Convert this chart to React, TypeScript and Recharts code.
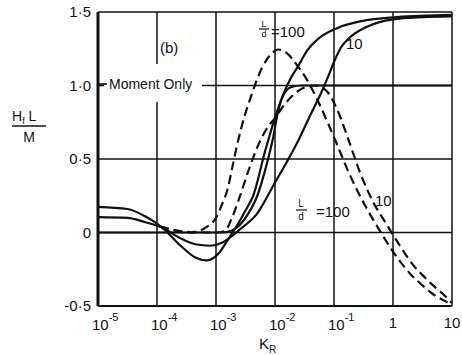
import React from 'react';
import { LineChart, Line, XAxis, YAxis, CartesianGrid, Customized } from 'recharts';

// x tick positions (K_R) and labels
const xTicks = [1e-5, 1e-4, 1e-3, 1e-2, 1e-1, 1, 10];
const xTickBase = ['10', '10', '10', '10', '10', '1', '10'];
const xTickExp = ['-5', '-4', '-3', '-2', '-1', '', ''];
// y ticks and labels
const yTicks = [-0.5, 0, 0.5, 1, 1.5];
const yTickLabels = ['-0·5', '0', '0·5', '1·0', '1·5'];

// Solid, L/d = 100 (log10 K_R, value)
const s100Log = [-5, -4.5, -4.2, -3.9, -3.6, -3.35, -3.15, -2.95, -2.8, -2.64, -2.5, -2.37, -2.17, -2.0, -1.85, -1.72, -1.61, -1.45, -1.29, -0.95, -0.51, 0.07, 1];
const s100Val = [0.175, 0.16, 0.11, 0.03, -0.09, -0.17, -0.19, -0.14, -0.05, 0.05, 0.15, 0.25, 0.55, 0.78, 0.95, 1.06, 1.13, 1.24, 1.31, 1.39, 1.44, 1.465, 1.48];

// Solid, L/d = 10
const s10Log = [-5, -4.5, -4.2, -3.9, -3.6, -3.35, -3.1, -2.9, -2.75, -2.6, -2.3, -2.0, -1.8, -1.6, -1.4, -1.24, -1.1, -1.0, -0.88, -0.75, -0.44, 0, 0.5, 1];
const s10Val = [0.105, 0.1, 0.07, 0.03, -0.04, -0.08, -0.09, -0.07, -0.03, 0.02, 0.13, 0.34, 0.48, 0.63, 0.8, 0.93, 1.06, 1.16, 1.26, 1.32, 1.4, 1.45, 1.465, 1.47];

// Solid, moment only
const smLog = [-5, -2.9, -2.75, -2.6, -2.45, -2.3, -2.15, -2.03, -1.95, -1.85, -1.72, -1.55, 1];
const smVal = [0, 0, 0.01, 0.05, 0.13, 0.25, 0.45, 0.65, 0.82, 0.94, 0.99, 1.0, 1.0];

// Dashed, L/d = 100
const d100Log = [-3.95, -3.75, -3.5, -3.3, -3.15, -3.0, -2.9, -2.8, -2.72, -2.64, -2.51, -2.42, -2.22, -2.05, -1.95, -1.8, -1.63, -1.46, -1.29, -1.12, -0.95, -0.73, -0.44, -0.22, 0, 0.29, 0.5, 0.68, 0.85, 1];
const d100Val = [0.04, 0.02, 0.0, 0.01, 0.04, 0.1, 0.19, 0.3, 0.45, 0.6, 0.8, 0.91, 1.12, 1.22, 1.245, 1.22, 1.14, 1.04, 0.91, 0.76, 0.6, 0.39, 0.16, 0.01, -0.13, -0.28, -0.36, -0.42, -0.46, -0.49];

// Dashed, L/d = 10
const d10Log = [-3.95, -3.6, -3.3, -3.0, -2.85, -2.73, -2.6, -2.45, -2.3, -2.15, -2.0, -1.8, -1.58, -1.32, -1.12, -0.95, -0.78, -0.56, -0.34, -0.1, 0.07, 0.34, 0.5, 0.68, 0.85, 1];
const d10Val = [0.04, 0.01, 0.0, 0.0, 0.01, 0.1, 0.24, 0.42, 0.58, 0.7, 0.78, 0.89, 0.97, 1.0, 0.96, 0.84, 0.66, 0.41, 0.21, 0.05, -0.06, -0.22, -0.29, -0.36, -0.42, -0.48];

const mk = (logs: number[], vals: number[]) => logs.map((l, i) => ({ k: Math.pow(10, l), v: vals[i] }));

const FONT = '"Liberation Sans", Arial, sans-serif';
const INK = '#111';

const XTick = (props: any) => {
  const { x, y, payload } = props;
  const i = xTicks.findIndex((t) => Math.abs(Math.log10(t) - Math.log10(payload.value)) < 1e-6);
  if (i < 0) return null;
  const exp = xTickExp[i];
  if (!exp) {
    return (
      <text x={x} y={y + 22} textAnchor="middle" fontFamily={FONT} fontSize={15} fill={INK}>
        {xTickBase[i]}
      </text>
    );
  }
  return (
    <text x={x - 6} y={y + 24} textAnchor="start" fontFamily={FONT} fontSize={15} fill={INK}>
      {xTickBase[i]}
      <tspan dy={-9} fontSize={11}>{exp}</tspan>
    </text>
  );
};

const YTick = (props: any) => {
  const { x, y, payload } = props;
  const i = yTicks.findIndex((t) => Math.abs(t - payload.value) < 1e-6);
  if (i < 0) return null;
  return (
    <text x={x - 7} y={y + 5} textAnchor="end" fontFamily={FONT} fontSize={15} fill={INK}>
      {yTickLabels[i]}
    </text>
  );
};

const Annotations = () => (
  <g fontFamily={FONT} fill={INK}>
    {/* blank area behind "Moment Only" */}
    <rect x={104} y={64} width={98} height={38} fill="#fff" />
    <text x={160} y={53} fontSize={15}>(b)</text>
    <text x={109} y={89} fontSize={14}>Moment Only</text>
    <line x1={99} y1={84} x2={107} y2={84} stroke={INK} strokeWidth={1.6} />
    {/* y-axis title: Hf L / M */}
    <text x={12} y={121} fontSize={14}>
      H<tspan fontSize={9} dy={3}>f</tspan>
      <tspan dy={-3}> L</tspan>
    </text>
    <line x1={12} y1={126} x2={46} y2={126} stroke={INK} strokeWidth={1.6} />
    <text x={29} y={142} fontSize={14} textAnchor="middle">M</text>
    {/* x-axis title: K_R */}
    <text x={259} y={349} fontSize={15}>
      K<tspan fontSize={10} dy={4}>R</tspan>
    </text>
    {/* upper labels */}
    <text x={264} y={27} fontSize={9} textAnchor="middle">L</text>
    <line x1={259} y1={29} x2={269} y2={29} stroke={INK} strokeWidth={1.2} />
    <text x={264} y={37} fontSize={9} textAnchor="middle">d</text>
    <text x={271} y={37} fontSize={15}>=100</text>
    <text x={346} y={49} fontSize={15}>10</text>
    {/* lower labels */}
    <text x={301} y={207} fontSize={10} textAnchor="middle">L</text>
    <line x1={296} y1={210} x2={307} y2={210} stroke={INK} strokeWidth={1.2} />
    <text x={301} y={220} fontSize={10} textAnchor="middle">d</text>
    <text x={316} y={217} fontSize={15}>=100</text>
    <text x={375} y={206} fontSize={15}>10</text>
  </g>
);

export default function App() {
  const sw = 2.2;
  const dash = '9 5';
  return (
    <div style={{ position: 'absolute', left: 0, top: 0, background: '#fff' }}>
      <LineChart width={462} height={355} margin={{ top: 12, right: 10, left: 0, bottom: 0 }}>
        <CartesianGrid stroke={INK} strokeWidth={1.5} />
        <XAxis
          type="number"
          dataKey="k"
          scale="log"
          domain={[1e-5, 10]}
          ticks={xTicks}
          allowDataOverflow
          height={49}
          tickLine={false}
          tickSize={0}
          tickMargin={0}
          axisLine={{ stroke: INK, strokeWidth: 2 }}
          tick={<XTick />}
          interval={0}
        />
        <YAxis
          type="number"
          domain={[-0.5, 1.5]}
          ticks={yTicks}
          allowDataOverflow
          width={98}
          tickLine={false}
          tickSize={0}
          tickMargin={0}
          axisLine={{ stroke: INK, strokeWidth: 3 }}
          tick={<YTick />}
          interval={0}
        />
        <Customized component={Annotations} />
        <Line data={mk(smLog, smVal)} dataKey="v" type="monotone" stroke={INK} strokeWidth={sw} dot={false} isAnimationActive={false} />
        <Line data={mk(s100Log, s100Val)} dataKey="v" type="monotone" stroke={INK} strokeWidth={sw} dot={false} isAnimationActive={false} />
        <Line data={mk(s10Log, s10Val)} dataKey="v" type="monotone" stroke={INK} strokeWidth={sw} dot={false} isAnimationActive={false} />
        <Line data={mk(d100Log, d100Val)} dataKey="v" type="monotone" stroke={INK} strokeWidth={sw} strokeDasharray={dash} dot={false} isAnimationActive={false} />
        <Line data={mk(d10Log, d10Val)} dataKey="v" type="monotone" stroke={INK} strokeWidth={sw} strokeDasharray={dash} dot={false} isAnimationActive={false} />
      </LineChart>
    </div>
  );
}
